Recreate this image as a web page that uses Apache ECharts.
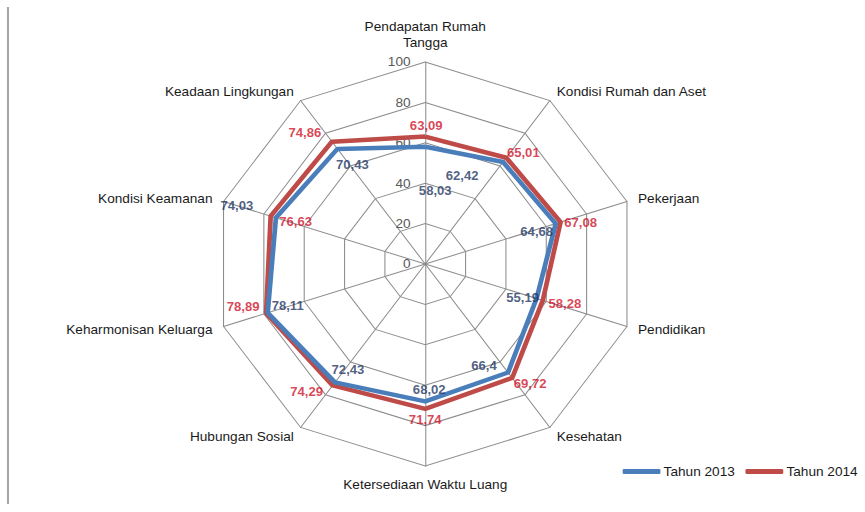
<!DOCTYPE html>
<html><head><meta charset="utf-8">
<script src="https://cdn.jsdelivr.net/npm/echarts@6/dist/echarts.min.js"></script>
<style>html,body{margin:0;padding:0;background:#fff;overflow:hidden}
#c{width:824px;height:512px;transform:scaleX(1.05);transform-origin:0 0}</style>
</head><body><div id="c"></div>
<script>
const categories = ['Pendapatan Rumah\nTangga','Kondisi Rumah dan Aset','Pekerjaan','Pendidikan','Kesehatan','Ketersediaan Waktu Luang','Hubungan Sosial','Keharmonisan Keluarga','Kondisi Keamanan','Keadaan Lingkungan'];
const tahun2013 = [58.03,62.42,64.68,55.19,66.4,68.02,72.43,78.11,74.03,70.43];
const tahun2014 = [63.09,65.01,67.08,58.28,69.72,71.74,74.29,78.89,76.63,74.86];
const seriesNames = ['Tahun 2013','Tahun 2014'];
const axisTicks = [0,20,40,60,80,100];

// label placement offsets (screen px)
const off2013 = [[10,44],[-41,14],[-19,8],[-14,-1],[-24,-7],[4,-12],[13,-13],[20,-7],[-39,-12],[15,16]];
const off2014 = [[1,-11],[17,-5],[20,0],[22,3],[18,6],[0,11],[-26,6],[-23,-7],[25,5],[-27,-9]];

const SX = 1.05;
const CX = 405, CY = 264, R = 202;
const FONT = '"Liberation Sans", Arial, sans-serif';
const BLUE = '#4a7ebb', RED = '#be4b48';

// ECharts radar runs counter-clockwise; reorder so it reads clockwise
const order = [0,9,8,7,6,5,4,3,2,1];
const indicators = order.map(i => ({name: categories[i], min: axisTicks[0], max: axisTicks[axisTicks.length-1]}));
const fmt = v => String(v).replace('.', ',');

function labelSeries(name, vals, offs, color) {
  return {
    name: name + ' label', type: 'scatter', coordinateSystem: 'polar', symbolSize: 0, z: 10,
    silent: true, legendHoverLink: false,
    data: vals.map((v, i) => ({value: [v, i], label: {offset: [offs[i][0] / SX, offs[i][1]]}})),
    label: {show: true, position: 'inside', formatter: p => fmt(p.value[0]), color: color,
      fontFamily: FONT, fontSize: 12.5, fontWeight: 'bold', align: 'center', verticalAlign: 'middle'}
  };
}

const chart = echarts.init(document.getElementById('c'), null, {renderer: 'svg'});
chart.setOption({
  animation: false,
  backgroundColor: '#fff',
  textStyle: {fontFamily: FONT},
  graphic: [{type: 'line', shape: {x1: 7.6, y1: 7, x2: 7.6, y2: 504}, style: {stroke: '#a6a6a6', lineWidth: 2}}],
  legend: {
    data: seriesNames, left: 588, top: 460, width: 400, orient: 'horizontal',
    itemWidth: 36, itemHeight: 5, itemGap: 10, icon: 'roundRect',
    textStyle: {fontFamily: FONT, fontSize: 13, color: '#1a1a1a', padding: [0, 0, 0, -2]}
  },
  radar: {
    center: [CX, CY], radius: R, startAngle: 90, splitNumber: 5, shape: 'polygon',
    indicator: indicators,
    axisName: {color: '#1a1a1a', fontFamily: FONT, fontSize: 13, lineHeight: 16},
    nameGap: 11,
    axisLine: {lineStyle: {color: '#8c8c8c', width: 1}},
    splitLine: {lineStyle: {color: '#8c8c8c', width: 1}},
    splitArea: {show: false},
    axisLabel: {show: false}
  },
  polar: {center: [CX, CY], radius: R},
  angleAxis: {type: 'category', data: categories, startAngle: 90, clockwise: true, boundaryGap: false,
    axisLine: {show: false}, axisTick: {show: false}, axisLabel: {show: false}, splitLine: {show: false}},
  radiusAxis: {type: 'value', min: axisTicks[0], max: axisTicks[axisTicks.length-1], interval: axisTicks[1]-axisTicks[0],
    axisLine: {show: false}, axisTick: {show: false}, splitLine: {show: false},
    axisLabel: {show: true, color: '#595959', fontFamily: FONT, fontSize: 13, margin: 14}},
  series: [
    {
      name: seriesNames[0], type: 'radar', symbol: 'none', z: 3,
      lineStyle: {color: BLUE, width: 4.5}, itemStyle: {color: BLUE},
      data: [{value: order.map(i => tahun2013[i]), name: seriesNames[0]}]
    },
    {
      name: seriesNames[1], type: 'radar', symbol: 'none', z: 2,
      lineStyle: {color: RED, width: 4.5}, itemStyle: {color: RED},
      data: [{value: order.map(i => tahun2014[i]), name: seriesNames[1]}]
    },
    labelSeries(seriesNames[0], tahun2013, off2013, '#1f3864'),
    labelSeries(seriesNames[1], tahun2014, off2014, '#d0142c')
  ]
});
</script></body></html>
